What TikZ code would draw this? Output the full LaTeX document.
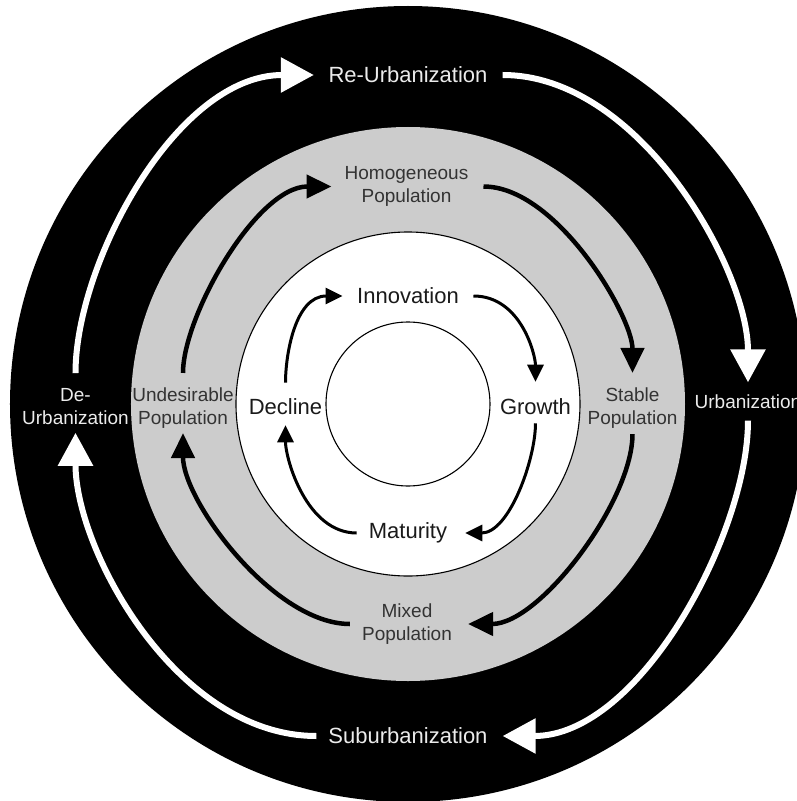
\documentclass[tikz,border=0pt]{standalone}
\usepackage{fontspec}
\setmainfont{Liberation Sans}
\usetikzlibrary{arrows.meta}

\definecolor{mblack}{RGB}{0,0,0}
\definecolor{mgrey}{RGB}{204,204,204}
\definecolor{mlight}{RGB}{235,235,235}
\definecolor{mdark}{RGB}{51,51,51}
\definecolor{mink}{RGB}{26,26,26}
\newcommand*{\colOuter}{mblack}
\newcommand*{\colMid}{mgrey}
\newcommand*{\colCore}{white}
\newcommand*{\rOuter}{398}
\newcommand*{\rMid}{277}
\newcommand*{\rCore}{172}
\newcommand*{\rHub}{82}
\newcommand*{\aOut}{125}
\newcommand*{\bOut}{152}
\newcommand*{\aMid}{72}
\newcommand*{\bMid}{88}
\newcommand*{\aIn}{44}
\newcommand*{\bIn}{62}

\begin{document}
\begin{tikzpicture}[x=1pt,y=1pt,
    outerlbl/.style={font=\fontsize{22}{26}\selectfont, text=mlight, inner sep=0pt},
    sidelbl/.style={font=\fontsize{19}{23}\selectfont, text=mlight, inner sep=0pt, align=center},
    midlbl/.style={font=\fontsize{19}{23}\selectfont, text=mdark, inner sep=0pt, align=center},
    corelbl/.style={font=\fontsize{22}{26}\selectfont, text=mink, inner sep=0pt},
    outerarr/.style={draw=white, line width=6pt, -{Triangle[length=33pt,width=34pt]}},
    midarr/.style={draw=black, line width=4.5pt, -{Triangle[length=25pt,width=23pt]}},
    innerarr/.style={draw=black, line width=3pt, -{Triangle[length=17pt,width=16pt]}}]

    \useasboundingbox (-408,-397) rectangle (388,404);

    \begin{scope}
        \fill [\colOuter] (0,0) circle (\rOuter);
        \fill [\colMid] (0,0) circle (\rMid);
        \foreach \r in {\rCore,\rHub} {
            \draw [fill=\colCore, line width=1.1pt] (0,0) circle (\r);
        }
    \end{scope}

    % outer ring
    \node [outerlbl] (reurb) at (0,329) {Re-Urbanization};
    \node [outerlbl] (suburb) at (0,-332) {Suburbanization};
    \node [sidelbl] (urb) at (340,2.5) {Urbanization};
    \node [sidelbl] (deurb) at (-332.5,-2.5) {De-\\Urbanization};

    \path [outerarr, shorten <=15pt, shorten >=14.5pt] (deurb.north) .. controls +(0,\aOut) and +(-\bOut,0) .. (reurb.west);
    \path [outerarr, shorten <=15pt, shorten >=12pt] (reurb.east) .. controls +(\bOut,0) and +(0,\aOut) .. (urb.north);
    \path [outerarr, shorten <=12pt, shorten >=15pt] (urb.south) .. controls +(0,-\aOut) and +(\bOut,0) .. (suburb.east);
    \path [outerarr, shorten <=12pt, shorten >=8pt] (suburb.west) .. controls +(-\bOut,0) and +(0,-\aOut) .. (deurb.south);

    % middle ring
    \node [midlbl] (homog) at (-1.5,217.5) {Homogeneous\\Population};
    \node [midlbl] (stable) at (224.5,-4.5) {Stable\\Population};
    \node [midlbl] (mixed) at (-1,-220) {Mixed\\Population};
    \node [midlbl] (undes) at (-225,-4.5) {Undesirable\\Population};

    \path [midarr, shorten <=15pt, shorten >=13pt] (undes.north) .. controls +(0,\aMid) and +(-\bMid,0) .. (homog.west);
    \path [midarr, shorten <=15pt, shorten >=15pt] (homog.east) .. controls +(\bMid,0) and +(0,\aMid) .. (stable.north);
    \path [midarr, shorten <=5pt, shorten >=16pt] (stable.south) .. controls +(0,-\aMid) and +(\bMid,0) .. (mixed.east);
    \path [midarr, shorten <=12pt, shorten >=4pt] (mixed.west) .. controls +(-\bMid,0) and +(0,-\aMid) .. (undes.south);

    % core ring
    \node [corelbl] (innov) at (0,108) {Innovation};
    \node [corelbl] (growth) at (127.5,-3) {Growth};
    \node [corelbl] (maturity) at (0,-129) {Maturity};
    \node [corelbl] (decline) at (-122.5,-3) {Decline};

    \path [innerarr, shorten <=16pt, shorten >=14.5pt] (decline.north) .. controls +(0,\aIn) and +(-\bIn,0) .. (innov.west);
    \path [innerarr, shorten <=14.5pt, shorten >=17pt] (innov.east) .. controls +(\bIn,0) and +(0,\aIn) .. (growth.north);
    \path [innerarr, shorten <=8pt, shorten >=18pt] (growth.south) .. controls +(0,-\aIn) and +(\bIn,0) .. (maturity.east);
    \path [innerarr, shorten <=12pt, shorten >=10pt] (maturity.west) .. controls +(-\bIn,0) and +(0,-\aIn) .. (decline.south);

\end{tikzpicture}
\end{document}
